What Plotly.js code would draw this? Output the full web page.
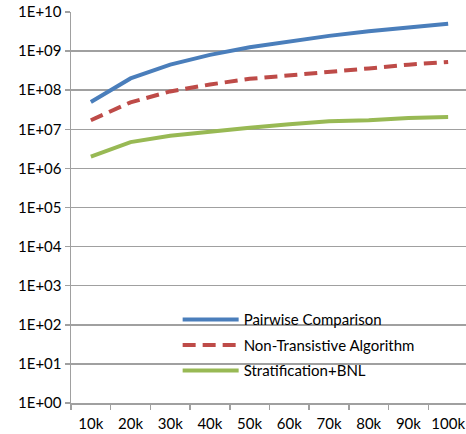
<!DOCTYPE html>
<html>
<head>
<meta charset="utf-8">
<script src="https://cdn.plot.ly/plotly-3.0.1.min.js"></script>
<style>html,body{margin:0;padding:0;background:#fff;}#chart{width:466px;height:434px;}</style>
</head>
<body>
<div id="chart"></div>
<script>
const categories = ["10k","20k","30k","40k","50k","60k","70k","80k","90k","100k"];
const pairwise = [5e7, 2e8, 4.5e8, 8e8, 1.25e9, 1.8e9, 2.45e9, 3.2e9, 4.05e9, 5e9];
const nonTransitive = [1.7e7, 4.9e7, 9.3e7, 1.4e8, 1.95e8, 2.35e8, 3.0e8, 3.6e8, 4.5e8, 5.3e8];
const stratification = [2.0e6, 4.7e6, 6.8e6, 8.8e6, 1.1e7, 1.35e7, 1.6e7, 1.7e7, 1.95e7, 2.05e7];
const seriesNames = ["Pairwise Comparison", "Non-Transistive Algorithm", "Stratification+BNL"];
const yTickVals = [1,1e1,1e2,1e3,1e4,1e5,1e6,1e7,1e8,1e9,1e10];
const yTickText = ["1E+00","1E+01","1E+02","1E+03","1E+04","1E+05","1E+06","1E+07","1E+08","1E+09","1E+10"];

const font = {family: "Lato, 'Open Sans', sans-serif", size: 15, color: "#000"};
const traces = [
  {x: categories, y: pairwise, name: seriesNames[0], type: "scatter", mode: "lines", legendgroup: "a",
   line: {color: "#4a7ebb", width: 4}},
  {x: categories, y: nonTransitive, name: seriesNames[1], type: "scatter", mode: "lines", legendgroup: "b",
   line: {color: "#be4b48", width: 4, dash: "13px,7px"}},
  {x: categories, y: stratification, name: seriesNames[2], type: "scatter", mode: "lines", legendgroup: "c",
   line: {color: "#98b954", width: 4}}
];
const layout = {
  width: 466, height: 434,
  margin: {l: 71, r: 0, t: 12, b: 31, pad: 0},
  paper_bgcolor: "#fff", plot_bgcolor: "#fff",
  font: font,
  showlegend: true,
  legend: {x: 0.27, xanchor: "left", y: 0.255, yanchor: "top", bgcolor: "rgba(0,0,0,0)",
           font: font, itemwidth: 56, tracegroupgap: 3},
  xaxis: {type: "category", range: [-0.5, 9.45], tickson: "boundaries",
          ticks: "outside", ticklen: 5, tickcolor: "#a0a0a0", tickwidth: 1.5,
          showline: true, linecolor: "#a0a0a0", linewidth: 1.5, showgrid: false,
          ticklabelstandoff: 6, tickfont: font, zeroline: false},
  yaxis: {type: "log", range: [0, 10], tickvals: yTickVals, ticktext: yTickText,
          ticks: "outside", ticklen: 5, tickcolor: "#a0a0a0", tickwidth: 1.5,
          showline: true, linecolor: "#a0a0a0", linewidth: 1.5,
          showgrid: true, gridcolor: "#a0a0a0", gridwidth: 1.5, tickfont: font, zeroline: false},
  shapes: [{type: "rect", xref: "paper", yref: "paper", x0: 0.2, x1: 0.972, y0: 0.1, y1: 0.26,
            fillcolor: "#fff", line: {width: 0}, layer: "between"}]
};
Plotly.newPlot("chart", traces, layout, {displayModeBar: false, staticPlot: true});
</script>
</body>
</html>
